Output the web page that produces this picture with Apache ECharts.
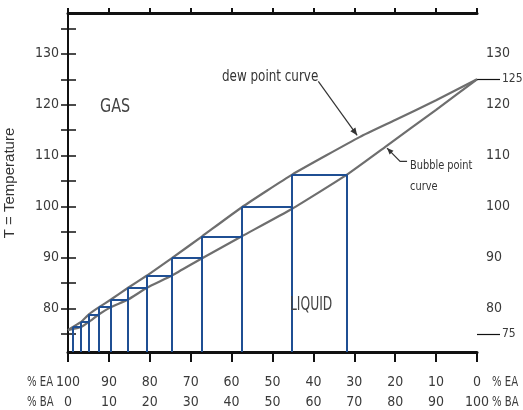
<!DOCTYPE html>
<html>
<head>
<meta charset="utf-8">
<script src="https://cdn.jsdelivr.net/npm/echarts@6/dist/echarts.min.js"></script>
<style>
html,body{margin:0;padding:0;background:#fff;}
#c{width:523px;height:410px;}
</style>
</head>
<body>
<div id="c"></div>
<script>
// ---- data (x = % BA, T = temperature) ----
const dewBA = [0, 1.2, 3.2, 5.1, 7.6, 10.5, 14.7, 19.3, 25.4, 32.8, 42.5, 54.8, 71.4, 80, 90, 100];
const dewT  = [75.8, 76.4, 77.4, 78.9, 80.3, 81.8, 84.1, 86.5, 89.9, 94.2, 99.9, 106.3, 113.7, 117.0, 120.9, 125];
const bubbleBA = [0, 3.2, 5.1, 7.6, 10.5, 14.7, 19.3, 25.4, 32.8, 42.5, 54.8, 68.2, 77.5, 90, 100];
const bubbleT  = [75.8, 76.4, 77.4, 78.9, 80.3, 81.8, 84.1, 86.5, 89.9, 94.2, 99.6, 106.3, 111.7, 119.0, 125];
// staircase: vertical lines at stepBA, horizontal k at stepT[k] from stepBA[k] to stepBA[k+1]
const stepBA = [1.2, 3.2, 5.1, 7.6, 10.5, 14.7, 19.3, 25.4, 32.8, 42.5, 54.8, 68.2];
const stepT  = [76.4, 77.4, 78.9, 80.3, 81.8, 84.1, 86.5, 89.9, 94.2, 99.9, 106.3];
const xTicks = [0, 10, 20, 30, 40, 50, 60, 70, 80, 90, 100];
const yTicks = [75, 80, 85, 90, 95, 100, 105, 110, 115, 120, 125, 130, 135];
const yLabels = [80, 90, 100, 110, 120, 130];
const yExtraLabels = [75, 125];
const yMin = 71.5, yMax = 138;

const FONT = '"Liberation Sans Narrow","DejaVu Sans Condensed",sans-serif';
const TXT = '#3a3a3a';

const stepLines = [];
for (let k = 0; k < stepBA.length; k++) {
  const top = k < stepT.length ? stepT[k] : stepT[k - 1];
  stepLines.push({coords: [[stepBA[k], top], [stepBA[k], yMin]]});
  if (k < stepT.length) {
    stepLines.push({coords: [[stepBA[k], stepT[k]], [stepBA[k + 1], stepT[k]]]});
  }
}

const chart = echarts.init(document.getElementById('c'), null, {renderer: 'canvas'});
const option = {
  animation: false,
  backgroundColor: '#fff',
  grid: {left: 68, right: 46, top: 13, bottom: 58, containLabel: false, outerBoundsMode: 'none'},
  xAxis: [{
    type: 'value', min: 0, max: 100, interval: 10, position: 'bottom',
    splitLine: {show: false},
    axisLine: {lineStyle: {color: '#111', width: 3}},
    axisTick: {length: 10, lineStyle: {color: '#111', width: 2}},
    axisLabel: {
      margin: 20, fontFamily: FONT, fontSize: 14, color: TXT, lineHeight: 20,
      formatter: v => (100 - v) + '\n' + v
    }
  }, {
    type: 'value', min: 0, max: 100, interval: 10, position: 'top',
    splitLine: {show: false},
    axisLine: {lineStyle: {color: '#111', width: 3}},
    axisTick: {length: 5, lineStyle: {color: '#111', width: 2}},
    axisLabel: {show: false}
  }],
  yAxis: [{
    type: 'value', min: yMin, max: yMax, position: 'left',
    splitLine: {show: false},
    axisLine: {show: true, lineStyle: {color: '#111', width: 2}},
    axisTick: {show: true, length: 7, customValues: yTicks, lineStyle: {color: '#111', width: 1.5}},
    axisLabel: {customValues: yLabels, margin: 9, fontFamily: FONT, fontSize: 14, color: TXT}
  }, {
    type: 'value', min: yMin, max: yMax, position: 'right',
    splitLine: {show: false},
    axisLine: {show: true, lineStyle: {color: '#111', width: 2}},
    axisTick: {show: true, length: 8, customValues: yTicks, lineStyle: {color: '#111', width: 1.5}},
    axisLabel: {customValues: yLabels, margin: 9, fontFamily: FONT, fontSize: 14, color: TXT}
  }, {
    type: 'value', min: yMin, max: yMax, position: 'right',
    splitLine: {show: false},
    axisLine: {show: false},
    axisTick: {show: true, length: 23, customValues: yExtraLabels, lineStyle: {color: '#111', width: 1.2}},
    axisLabel: {customValues: yExtraLabels, margin: 25, fontFamily: FONT, fontSize: 12, color: TXT}
  }],
  series: [{
    name: 'dew point curve', type: 'line', xAxisIndex: 0, yAxisIndex: 0,
    data: dewBA.map((x, i) => [x, dewT[i]]),
    showSymbol: false, smooth: 0.15,
    lineStyle: {color: '#6e6e6e', width: 2.2}, z: 3
  }, {
    name: 'Bubble point curve', type: 'line', xAxisIndex: 0, yAxisIndex: 0,
    data: bubbleBA.map((x, i) => [x, bubbleT[i]]),
    showSymbol: false, smooth: 0.15,
    lineStyle: {color: '#6e6e6e', width: 2.2}, z: 3
  }, {
    name: 'stages', type: 'lines', coordinateSystem: 'cartesian2d',
    xAxisIndex: 0, yAxisIndex: 0,
    data: stepLines,
    lineStyle: {color: '#1f4f93', width: 2, opacity: 1}, z: 4
  }]
};
chart.setOption(option);

function px(x, y) { return chart.convertToPixel({xAxisIndex: 0, yAxisIndex: 0}, [x, y]); }

// annotation anchors in data coordinates
const dewArrowFrom = px(61.2, 124.6), dewArrowTo = px(70.7, 114.0);
const bubArrowTip = px(78.0, 111.5), bubArrowBend = px(81.2, 108.9), bubArrowEnd = px(82.9, 108.9);

function arrowHead(from, to, size) {
  const a = Math.atan2(to[1] - from[1], to[0] - from[0]);
  const l = [to[0] - size * Math.cos(a - 0.4), to[1] - size * Math.sin(a - 0.4)];
  const r = [to[0] - size * Math.cos(a + 0.4), to[1] - size * Math.sin(a + 0.4)];
  return {type: 'polygon', shape: {points: [to, l, r]}, style: {fill: '#333'}, z: 10};
}

function label(text, x, y, size, sx, color) {
  return {type: 'text', x: x, y: y, scaleX: sx,
    style: {text: text, font: size + 'px ' + FONT, fill: color || TXT, verticalAlign: 'middle'}, z: 10};
}

chart.setOption({
  graphic: [
    label('% EA', 27, 382, 14, 0.8),
    label('% BA', 27, 402, 14, 0.8),
    label('% EA', 492, 382, 14, 0.8),
    label('% BA', 492, 402, 14, 0.8),
    {type: 'text', x: 10, y: 183, rotation: Math.PI / 2,
      style: {text: 'T = Temperature', font: '15px "Liberation Sans",Arial,sans-serif', fill: '#333', align: 'center', verticalAlign: 'middle'}},
    label('GAS', 100, 107, 20, 0.8, '#444'),
    label('LIQUID', 290, 305, 19, 0.72, '#444'),
    label('dew point curve', 222, 77, 16, 0.83, '#333'),
    label('Bubble point', 410, 166, 13, 0.84, '#333'),
    label('curve', 410, 187, 13, 0.84, '#333'),
    {type: 'line', shape: {x1: dewArrowFrom[0], y1: dewArrowFrom[1], x2: dewArrowTo[0], y2: dewArrowTo[1]},
      style: {stroke: '#333', lineWidth: 1.2}, z: 10},
    arrowHead(dewArrowFrom, dewArrowTo, 8),
    {type: 'polyline', shape: {points: [bubArrowEnd, bubArrowBend, bubArrowTip]},
      style: {stroke: '#333', lineWidth: 1.2, fill: null}, z: 10},
    arrowHead(bubArrowBend, bubArrowTip, 7)
  ]
});
</script>
</body>
</html>
